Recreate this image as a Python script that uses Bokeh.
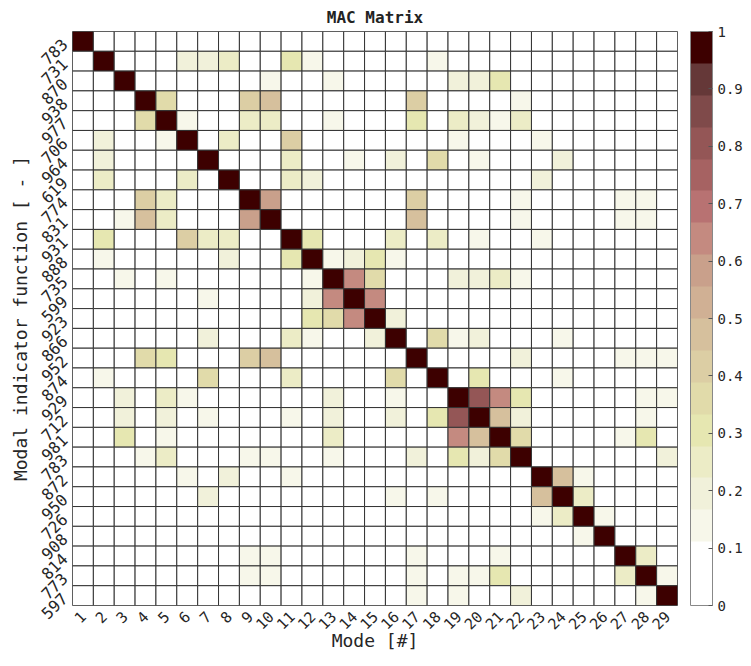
from bokeh.plotting import figure
from bokeh.models import (LinearColorMapper, ColorBar, FixedTicker, Range1d,
                          ColumnDataSource)
from bokeh.embed import file_html
from bokeh.resources import INLINE
import math

# ---------------- data ----------------
modes = [1, 2, 3, 4, 5, 6, 7, 8, 9, 10, 11, 12, 13, 14, 15, 16, 17, 18, 19, 20,
         21, 22, 23, 24, 25, 26, 27, 28, 29]
mif_labels = ["783", "731", "870", "938", "977", "706", "964", "619", "774", "831",
              "931", "888", "735", "599", "923", "866", "952", "874", "929", "712",
              "981", "783", "872", "950", "726", "908", "814", "773", "597"]
diag_val = [1.0, 1.0, 1.0, 1.0, 1.0, 1.0, 1.0, 1.0, 1.0, 1.0, 1.0, 1.0, 1.0, 1.0,
            1.0, 1.0, 1.0, 1.0, 1.0, 1.0, 1.0, 1.0, 1.0, 1.0, 1.0, 1.0, 1.0, 1.0, 1.0]

# off-diagonal MAC entries (row, column, value); all others ~0
mac_row = [2, 2, 2, 2, 2, 2,
           3, 3, 3, 3, 3,
           4, 4, 4, 4, 4,
           5, 5, 5, 5, 5, 5, 5, 5, 5, 5,
           6, 6, 6, 6, 6, 6,
           7, 7, 7, 7, 7, 7, 7,
           8, 8, 8, 8, 8,
           9, 9, 9, 9, 9, 9, 9,
           10, 10, 10, 10, 10, 10, 10, 10,
           11, 11, 11, 11, 11, 11, 11, 11, 11,
           12, 12, 12, 12, 12, 12, 12,
           13, 13, 13, 13, 13, 13, 13, 13, 13,
           14, 14, 14, 14,
           15, 15, 15, 15,
           16, 16, 16, 16, 16, 16, 16, 16,
           17, 17, 17, 17, 17, 17, 17, 17,
           18, 18, 18, 18, 18, 18,
           19, 19, 19, 19, 19, 19, 19, 19, 19, 19,
           20, 20, 20, 20, 20, 20, 20, 20, 20, 20, 20,
           21, 21, 21, 21, 21, 21, 21, 21,
           22, 22, 22, 22, 22, 22, 22, 22, 22, 22,
           23, 23, 23, 23, 23,
           24, 24, 24, 24, 24,
           25, 25, 25,
           26,
           27, 27, 27, 27, 27,
           28, 28, 28, 28, 28, 28, 28, 28,
           29, 29, 29, 29]
mac_col = [6, 7, 8, 11, 12, 18,
           10, 13, 19, 20, 21,
           5, 9, 10, 17, 22,
           4, 6, 9, 10, 13, 17, 19, 20, 21, 22,
           2, 5, 8, 11, 19, 23,
           2, 11, 14, 16, 18, 20, 24,
           2, 6, 11, 12, 23,
           4, 5, 10, 17, 22, 27, 28,
           3, 4, 5, 9, 17, 22, 27, 28,
           2, 6, 7, 8, 12, 16, 18, 20, 23,
           2, 8, 11, 13, 14, 15, 16,
           3, 5, 12, 14, 15, 19, 20, 21, 22,
           7, 12, 13, 15,
           12, 13, 14, 16,
           7, 11, 12, 15, 18, 19, 20, 24,
           4, 5, 9, 10, 22, 27, 28, 29,
           2, 7, 11, 16, 20, 24,
           3, 5, 6, 13, 16, 20, 21, 22, 28, 29,
           3, 5, 7, 11, 13, 16, 18, 19, 21, 22, 28,
           3, 5, 13, 19, 20, 22, 27, 28,
           4, 5, 9, 10, 13, 17, 19, 20, 21, 29,
           6, 8, 11, 24, 25,
           7, 16, 18, 23, 25,
           23, 24, 26,
           25,
           9, 10, 17, 21, 28,
           9, 10, 17, 19, 20, 21, 27, 29,
           17, 19, 22, 28]
mac_val = [0.19, 0.19, 0.24, 0.31, 0.14, 0.14,
           0.14, 0.14, 0.19, 0.19, 0.31,
           0.37, 0.42, 0.47, 0.40, 0.14,
           0.37, 0.14, 0.26, 0.25, 0.14, 0.31, 0.25, 0.19, 0.14, 0.25,
           0.20, 0.14, 0.25, 0.42, 0.14, 0.14,
           0.20, 0.24, 0.14, 0.19, 0.37, 0.14, 0.20,
           0.25, 0.25, 0.24, 0.19, 0.19,
           0.42, 0.27, 0.58, 0.42, 0.14, 0.14, 0.14,
           0.14, 0.47, 0.25, 0.58, 0.47, 0.14, 0.14, 0.14,
           0.31, 0.40, 0.25, 0.25, 0.31, 0.24, 0.25, 0.14, 0.14,
           0.14, 0.19, 0.31, 0.14, 0.20, 0.31, 0.14,
           0.14, 0.14, 0.14, 0.63, 0.37, 0.19, 0.19, 0.25, 0.14,
           0.14, 0.20, 0.63, 0.63,
           0.31, 0.37, 0.63, 0.20,
           0.20, 0.25, 0.14, 0.19, 0.37, 0.14, 0.19, 0.14,
           0.37, 0.31, 0.42, 0.47, 0.19, 0.14, 0.14, 0.14,
           0.14, 0.37, 0.25, 0.37, 0.31, 0.14,
           0.20, 0.25, 0.14, 0.20, 0.14, 0.81, 0.63, 0.31, 0.14, 0.14,
           0.20, 0.20, 0.14, 0.14, 0.20, 0.20, 0.31, 0.81, 0.48, 0.20, 0.14,
           0.31, 0.14, 0.25, 0.63, 0.48, 0.37, 0.14, 0.31,
           0.14, 0.25, 0.14, 0.14, 0.14, 0.20, 0.31, 0.20, 0.37, 0.20,
           0.14, 0.20, 0.14, 0.48, 0.14,
           0.20, 0.14, 0.14, 0.48, 0.25,
           0.14, 0.25, 0.14,
           0.14,
           0.14, 0.14, 0.14, 0.14, 0.25,
           0.14, 0.14, 0.14, 0.14, 0.14, 0.31, 0.25, 0.14,
           0.14, 0.14, 0.20, 0.14]

cbar_ticks = [0, 0.1, 0.2, 0.3, 0.4, 0.5, 0.6, 0.7, 0.8, 0.9, 1]
cbar_labels = ["0", "0.1", "0.2", "0.3", "0.4", "0.5", "0.6", "0.7", "0.8", "0.9", "1"]

palette = ["#ffffff", "#ffffff", "#f7f7ea", "#f1f1da", "#ececc6", "#e6e7b1",
           "#e1dbaa", "#dccea4", "#d6c09d", "#d0b094", "#c9a08b", "#c48a80",
           "#b87272", "#a66262", "#945656", "#7f4a4a", "#653838", "#3d0000"]

# ---------------- build grid ----------------
n = len(modes)
vals = {}
for r in modes:
    for c in modes:
        vals[(r, c)] = 0.0
for i, m in enumerate(modes):
    vals[(m, m)] = diag_val[i]
for r, c, v in zip(mac_row, mac_col, mac_val):
    vals[(r, c)] = v

xs, ys, vs = [], [], []
for (r, c), v in vals.items():
    xs.append(c)
    ys.append(r)
    vs.append(v)
src = ColumnDataSource(dict(x=xs, y=ys, v=vs))

mapper = LinearColorMapper(palette=palette, low=0, high=1)

FONT = "DejaVu Sans Mono"

p = figure(frame_width=605, frame_height=574,
           x_range=Range1d(0.5, n + 0.5), y_range=Range1d(n + 0.5, 0.5),
           output_backend="svg", toolbar_location=None,
           title="MAC Matrix",
           min_border_left=72, min_border_top=22, min_border_right=10,
           min_border_bottom=5)

p.rect(x="x", y="y", width=1, height=1, source=src,
       fill_color={"field": "v", "transform": mapper},
       line_color="#333333", line_width=1)

p.title.align = "center"
p.title.text_font = FONT
p.title.text_font_size = "16px"
p.title.text_font_style = "bold"
p.title.text_color = "#222222"

p.xaxis.ticker = FixedTicker(ticks=modes)
p.yaxis.ticker = FixedTicker(ticks=modes)
p.yaxis.major_label_overrides = {m: lab for m, lab in zip(modes, mif_labels)}
p.xaxis.major_label_orientation = math.pi / 4
p.yaxis.major_label_orientation = math.pi / 4
p.xaxis.axis_label = "Mode [#]"
p.yaxis.axis_label = "Modal indicator function [ - ]"
for ax in (p.xaxis[0], p.yaxis[0]):
    ax.major_label_text_font = FONT
    ax.major_label_text_color = "#262626"
    ax.axis_label_text_font = FONT
    ax.axis_label_text_font_size = "18px"
    ax.axis_label_text_font_style = "normal"
    ax.axis_label_text_color = "#262626"
    ax.major_tick_line_color = None
    ax.minor_tick_line_color = None
    ax.axis_line_color = None
p.xaxis.major_label_text_font_size = "15px"
p.yaxis.major_label_text_font_size = "16px"
p.xaxis.major_label_standoff = 2
p.yaxis.major_label_standoff = 2
p.xaxis.axis_label_standoff = -8
p.yaxis.axis_label_standoff = 2

p.grid.visible = False
p.outline_line_color = "#666666"
p.background_fill_color = "white"

cb = ColorBar(color_mapper=mapper, ticker=FixedTicker(ticks=cbar_ticks),
              major_label_overrides={t: l for t, l in zip(cbar_ticks, cbar_labels)},
              width=22, padding=0, margin=0, location=(13, 0),
              label_standoff=5,
              major_label_text_font=FONT, major_label_text_font_size="14px",
              major_label_text_color="#262626",
              major_tick_line_color="#555555", major_tick_in=4,
              bar_line_color="#888888", border_line_color=None)
p.add_layout(cb, "right")

open("out.html", "w").write(file_html(p, INLINE))
